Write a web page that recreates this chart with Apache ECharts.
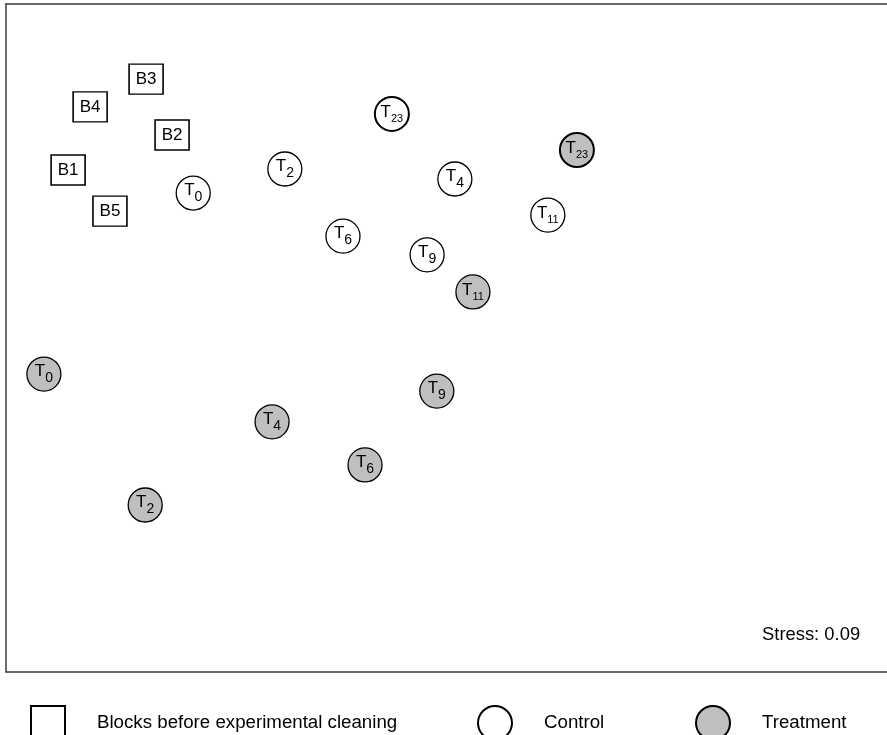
<!DOCTYPE html>
<html>
<head>
<meta charset="utf-8">
<script src="https://cdn.jsdelivr.net/npm/echarts@6/dist/echarts.min.js"></script>
<style>
  html, body { margin: 0; padding: 0; background: #fff; }
  #chart { width: 887px; height: 735px; }
</style>
</head>
<body>
<div id="chart"></div>
<script>
// NMDS ordination of sample blocks (axis units are ordination scores)
const blockNames = ['B1', 'B2', 'B3', 'B4', 'B5'];
const blockX = [-0.859, -0.623, -0.682, -0.809, -0.764];
const blockY = [0.503, 0.608, 0.775, 0.692, 0.380];

const timeLabels = ['0', '2', '4', '6', '9', '11', '23'];
const controlX = [-0.575, -0.367, 0.019, -0.235, -0.044, 0.230, -0.124];
const controlY = [0.434, 0.506, 0.476, 0.305, 0.249, 0.368, 0.671];
const treatX = [-0.914, -0.684, -0.396, -0.185, -0.022, 0.060, 0.296];
const treatY = [-0.108, -0.500, -0.251, -0.380, -0.159, 0.138, 0.563];

const stressText = 'Stress: 0.09';
const legendNames = ['Blocks before experimental cleaning', 'Control', 'Treatment'];

const FONT = '"Liberation Sans", Arial, Helvetica, sans-serif';

// "T" with a lowered subscript; two-digit subscripts use a smaller font
const richTime = {
  t:  { fontSize: 17, lineHeight: 17, fontFamily: FONT, color: '#000', padding: [0, 0, 6, 0] },
  s:  { fontSize: 14, lineHeight: 14, fontFamily: FONT, color: '#000', padding: [9, 0, 0, 0] },
  t2: { fontSize: 17, lineHeight: 17, fontFamily: FONT, color: '#000', padding: [0, 0, 4, 0] },
  s2: { fontSize: 11, lineHeight: 11, fontFamily: FONT, color: '#000', padding: [10, 0, 0, 0] }
};

function timePoints(xs, ys) {
  return xs.map((x, i) => {
    const sub = timeLabels[i];
    return {
      value: [x, ys[i]],
      sub: sub,
      itemStyle: sub === '23' ? { borderWidth: 2 } : undefined
    };
  });
}

function timeLabelFormatter(p) {
  const sub = p.data.sub;
  return sub.length > 1 ? '{t2|T}{s2|' + sub + '}' : '{t|T}{s|' + sub + '}';
}

const frameLine = { show: true, onZero: false, lineStyle: { color: '#3a3a3a', width: 1.5 } };
const hiddenAxis = {
  type: 'value', min: -1, max: 1,
  axisTick: { show: false }, axisLabel: { show: false }, splitLine: { show: false }
};

const chart = echarts.init(document.getElementById('chart'), null, { renderer: 'canvas' });

chart.setOption({
  backgroundColor: '#fff',
  animation: false,
  title: {
    text: stressText,
    left: 762,
    top: 626,
    padding: 0,
    textStyle: { fontSize: 18.4, fontWeight: 'normal', fontFamily: FONT, color: '#000' }
  },
  grid: { left: 6, top: 4, right: -10, bottom: 63, show: false },
  xAxis: [
    Object.assign({}, hiddenAxis, { position: 'bottom', axisLine: frameLine }),
    Object.assign({}, hiddenAxis, { position: 'top', axisLine: frameLine })
  ],
  yAxis: Object.assign({}, hiddenAxis, { position: 'left', axisLine: frameLine }),
  legend: legendNames.map((name, i) => ({
    data: [name],
    left: [30, 477, 695][i],
    top: 705,
    padding: 0,
    itemWidth: 34,
    itemHeight: 34,
    selectedMode: false,
    textStyle: { fontSize: 18.7, fontFamily: FONT, color: '#000', padding: [0, 0, 6, 27] }
  })),
  series: [
    {
      name: legendNames[0],
      type: 'scatter',
      symbol: 'rect',
      symbolSize: [34, 30],
      itemStyle: { color: '#fff', borderColor: '#000', borderWidth: 1.5, opacity: 1 },
      label: {
        show: true, position: 'inside',
        formatter: p => p.data.name,
        fontSize: 17, fontFamily: FONT, color: '#000'
      },
      data: blockNames.map((n, i) => ({ name: n, value: [blockX[i], blockY[i]] }))
    },
    {
      name: legendNames[1],
      type: 'scatter',
      symbol: 'circle',
      symbolSize: 34,
      itemStyle: { color: '#fff', borderColor: '#000', borderWidth: 1.3, opacity: 1 },
      label: { show: true, position: 'inside', formatter: timeLabelFormatter, rich: richTime },
      data: timePoints(controlX, controlY)
    },
    {
      name: legendNames[2],
      type: 'scatter',
      symbol: 'circle',
      symbolSize: 34,
      itemStyle: { color: '#bfbfbf', borderColor: '#000', borderWidth: 1.3, opacity: 1 },
      label: { show: true, position: 'inside', formatter: timeLabelFormatter, rich: richTime },
      data: timePoints(treatX, treatY)
    }
  ]
});
</script>
</body>
</html>
